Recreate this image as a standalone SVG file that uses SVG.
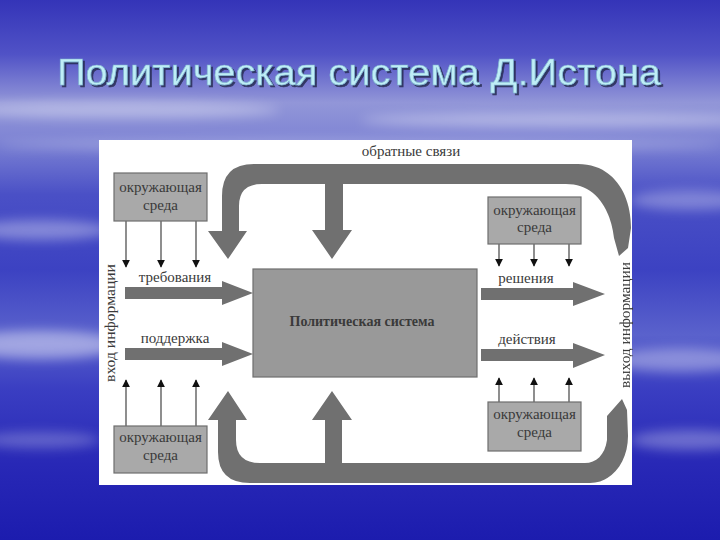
<svg xmlns="http://www.w3.org/2000/svg" width="720" height="540" viewBox="0 0 720 540">
<defs>
<linearGradient id="bg" x1="0" y1="0" x2="0" y2="1">
<stop offset="0" stop-color="#3434b8"/>
<stop offset="0.1" stop-color="#5052c6"/>
<stop offset="0.19" stop-color="#9296d8"/>
<stop offset="0.26" stop-color="#7e84d4"/>
<stop offset="0.36" stop-color="#4a50c6"/>
<stop offset="0.5" stop-color="#3c42c2"/>
<stop offset="0.62" stop-color="#5a62cc"/>
<stop offset="0.72" stop-color="#3a3ec2"/>
<stop offset="0.86" stop-color="#2828b6"/>
<stop offset="1" stop-color="#1c1cae"/>
</linearGradient>
<filter id="blur" x="-20%" y="-50%" width="140%" height="200%"><feGaussianBlur stdDeviation="6"/></filter>
<filter id="tshadow" x="-5%" y="-30%" width="110%" height="160%">
<feFlood flood-color="#22284a" flood-opacity="0.8"/>
<feComposite in2="SourceAlpha" operator="in"/>
<feOffset dx="2" dy="2"/>
<feGaussianBlur stdDeviation="0.7" result="sh"/>
<feMerge><feMergeNode in="sh"/><feMergeNode in="SourceGraphic"/></feMerge>
</filter>
<marker id="ah" viewBox="0 0 10 10" refX="9" refY="5" markerWidth="8" markerHeight="8" markerUnits="userSpaceOnUse" orient="auto"><path d="M0,0 L10,5 L0,10 Z" fill="#111"/></marker>
<style>
.env rect{fill:#a9a9a9;stroke:#6e6e6e;stroke-width:1.2}
.env text,.lbl{font-family:"Liberation Serif","DejaVu Serif",serif;font-size:15px;fill:#3a3a3a;text-anchor:middle}
.thin{stroke:#444;stroke-width:1.2;fill:none;marker-end:url(#ah)}
.fat{fill:#707070}
.title{font-family:"Liberation Sans","DejaVu Sans",sans-serif;font-size:36px}
</style>
</defs>
<rect x="0" y="0" width="720" height="540" fill="url(#bg)"/>
<g filter="url(#blur)" fill="#ffffff">
<ellipse cx="120" cy="110" rx="160" ry="8" opacity="0.35"/>
<ellipse cx="560" cy="120" rx="200" ry="7" opacity="0.35"/>
<ellipse cx="360" cy="145" rx="360" ry="6" opacity="0.25"/>
<ellipse cx="40" cy="230" rx="70" ry="10" opacity="0.35"/>
<ellipse cx="690" cy="200" rx="60" ry="10" opacity="0.3"/>
<ellipse cx="40" cy="345" rx="80" ry="14" opacity="0.45"/>
<ellipse cx="680" cy="360" rx="70" ry="12" opacity="0.35"/>
<ellipse cx="690" cy="440" rx="60" ry="10" opacity="0.3"/>
<ellipse cx="40" cy="440" rx="60" ry="8" opacity="0.25"/>
</g>
<g id="title">
<text class="title" x="57" y="85" fill="#bfeef6" stroke="#7fb4d0" stroke-width="0.6" filter="url(#tshadow)" textLength="604" lengthAdjust="spacingAndGlyphs">Политическая система Д.Истона</text>
</g>
<rect id="panel" x="99" y="140" width="533" height="345" fill="#ffffff"/>
<g id="connectors">
<path class="fat" d="M222,231 L222,196 Q222,164 254,164 L578,164 C612,164 631,192 631,228 L628,248 L619,256 L614,238 C610,206 594,184 566,184 L343,184 L343,230 L352,230 L332,259 L312,230 L325,230 L325,184 L262,184 Q239,184 239,206 L239,231 L247,231 L228,259 L208,231 Z"/>
<path class="fat" d="M218,420 L218,452 Q218,483 250,483 L590,483 C612,483 628,462 628,436 L627,410 L622,399 L607,416 L607,440 C605,455 596,463 585,463 L342,463 L342,420 L352,420 L332,391 L312,420 L325,420 L325,463 L260,463 Q236,463 236,440 L236,420 L247,420 L228,391 L208,420 Z"/>
<path class="fat" d="M125,287 L222,287 L222,281 L253,293 L222,305 L222,299 L125,299 Z"/>
<path class="fat" d="M125,348 L222,348 L222,342 L253,354 L222,366 L222,360 L125,360 Z"/>
<path class="fat" d="M481,288 L573,288 L573,282 L605,294 L573,306 L573,300 L481,300 Z"/>
<path class="fat" d="M481,349 L573,349 L573,343 L605,355 L573,368 L573,361 L481,361 Z"/>
<line class="thin" x1="126" y1="221" x2="126" y2="267"/>
<line class="thin" x1="161" y1="221" x2="161" y2="267"/>
<line class="thin" x1="196" y1="221" x2="196" y2="267"/>
<line class="thin" x1="126" y1="426" x2="126" y2="380"/>
<line class="thin" x1="161" y1="426" x2="161" y2="380"/>
<line class="thin" x1="196" y1="426" x2="196" y2="380"/>
<line class="thin" x1="499" y1="244" x2="499" y2="266"/>
<line class="thin" x1="534" y1="244" x2="534" y2="266"/>
<line class="thin" x1="569" y1="244" x2="569" y2="266"/>
<line class="thin" x1="499" y1="402" x2="499" y2="378"/>
<line class="thin" x1="534" y1="402" x2="534" y2="378"/>
<line class="thin" x1="569" y1="402" x2="569" y2="378"/>
</g>
<g id="labels">
<text class="lbl" x="411" y="156">обратные связи</text>
<text class="lbl" x="175" y="282">требования</text>
<text class="lbl" x="175" y="343">поддержка</text>
<text class="lbl" x="526" y="283">решения</text>
<text class="lbl" x="527" y="344">действия</text>
<text class="lbl" transform="translate(115,323) rotate(-90)" textLength="118" lengthAdjust="spacingAndGlyphs">вход информации</text>
<text class="lbl" transform="translate(630,325) rotate(-90)" textLength="126" lengthAdjust="spacingAndGlyphs">выход информации</text>
</g>
<g id="system">
<rect x="253" y="269" width="224" height="108" fill="#999999" stroke="#6e6e6e" stroke-width="1.2"/>
<text x="362" y="326" font-family="Liberation Serif, DejaVu Serif, serif" font-size="15" font-weight="bold" fill="#3a3a3a" text-anchor="middle" textLength="145" lengthAdjust="spacingAndGlyphs">Политическая система</text>
</g>
<g id="env-top-left" class="env">
<rect x="114" y="173" width="93" height="48"/>
<text x="160.5" y="192">окружающая</text>
<text x="160.5" y="210">среда</text>
</g>
<g id="env-bottom-left" class="env">
<rect x="114" y="426" width="93" height="47"/>
<text x="160.5" y="442">окружающая</text>
<text x="160.5" y="460">среда</text>
</g>
<g id="env-top-right" class="env">
<rect x="488" y="197" width="93" height="47"/>
<text x="534.5" y="215">окружающая</text>
<text x="534.5" y="232">среда</text>
</g>
<g id="env-bottom-right" class="env">
<rect x="488" y="402" width="93" height="49"/>
<text x="534.5" y="419">окружающая</text>
<text x="534.5" y="437">среда</text>
</g>
</svg>
